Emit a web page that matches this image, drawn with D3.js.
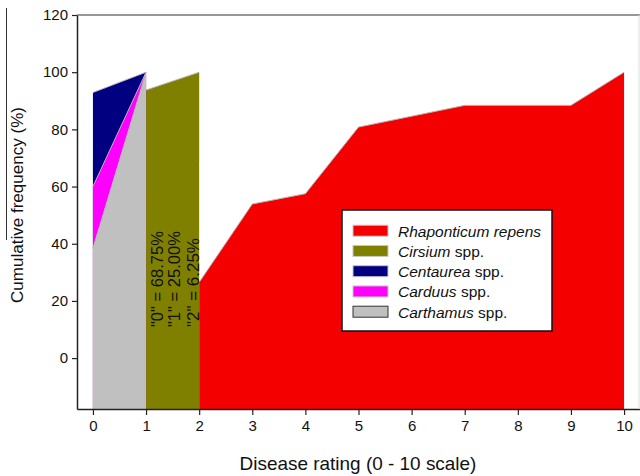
<!DOCTYPE html>
<html>
<head>
<meta charset="utf-8">
<script src="https://cdn.jsdelivr.net/npm/d3@7"></script>
<style>
  body { margin: 0; background: #fff; }
  svg text { font-family: "Liberation Sans", Arial, sans-serif; fill: #111; }
</style>
</head>
<body>
<div id="chart"></div>
<script>
// cumulative frequency (%) by disease rating
const rhapRatings = [2, 3, 4, 5, 6, 7, 8, 9, 10];
const rhapValues = [26.5, 53.9, 57.5, 80.8, 84.6, 88.4, 88.4, 88.4, 100];
const cirsiumRatings = [0, 1, 2];
const cirsiumValues = [68.75, 93.75, 100];
const centaureaRatings = [0, 1];
const centaureaValues = [92.9, 100];
const carduusRatings = [0, 1];
const carduusValues = [60.0, 100];
const carthamusRatings = [0, 1];
const carthamusValues = [38.4, 100];

const xTicks = [0, 1, 2, 3, 4, 5, 6, 7, 8, 9, 10];
const yTicks = [0, 20, 40, 60, 80, 100, 120];
const cirsiumNotes = ['"0" = 68.75%', '"1" = 25.00%', '"2" = 6.25%'];

const width = 640, height = 476;
const svg = d3.select("#chart").append("svg")
    .attr("width", width)
    .attr("height", height);

const xScale = d3.scaleLinear().domain([-0.3, 10.3]).range([77, 640]);
const yScale = d3.scaleLinear().domain([-17.8, 120]).range([409, 15]);

// shrink/grow a text node so it spans the wanted length
function fitText(sel, size, target) {
    sel.style("font-size", size + "px");
    const len = sel.node().getComputedTextLength();
    if (len > 0) sel.style("font-size", (size * target / len).toFixed(2) + "px");
}

// series drawn back to front
const series = [
    { name: "Rhaponticum", extra: "repens", color: "#f40000", edge: "#c8c8c8", x: rhapRatings, y: rhapValues },
    { name: "Cirsium", extra: "spp.", color: "#808000", edge: "#c8c8c8", x: cirsiumRatings, y: cirsiumValues },
    { name: "Centaurea", extra: "spp.", color: "#000080", edge: "#c8c8c8", x: centaureaRatings, y: centaureaValues },
    { name: "Carduus", extra: "spp.", color: "#ff00ff", edge: "#c8c8c8", x: carduusRatings, y: carduusValues },
    { name: "Carthamus", extra: "spp.", color: "#c0c0c0", edge: "#333", x: carthamusRatings, y: carthamusValues }
];

const area = d3.area()
    .x(d => xScale(d[0]))
    .y0(yScale(-17.8))
    .y1(d => yScale(d[1]));
const line = d3.line()
    .x(d => xScale(d[0]))
    .y(d => yScale(d[1]));

series.forEach(s => {
    const pts = s.x.map((v, i) => [v, s.y[i]]);
    svg.append("path")
        .datum(pts)
        .attr("d", area)
        .attr("fill", s.color);
    svg.append("path")
        .datum(pts)
        .attr("d", line)
        .attr("fill", "none")
        .attr("stroke", "#b8b8b8")
        .attr("stroke-width", 1);
});

// axes
const xAxis = svg.append("g")
    .attr("transform", `translate(0, ${yScale(-17.8)})`)
    .call(d3.axisBottom(xScale).tickValues(xTicks).tickSize(6).tickPadding(5).tickSizeOuter(0));
const yAxis = svg.append("g")
    .attr("transform", `translate(${xScale(-0.3)}, 0)`)
    .call(d3.axisLeft(yScale).tickValues(yTicks).tickSize(5).tickPadding(4).tickSizeOuter(0));
[xAxis, yAxis].forEach(g => {
    g.select(".domain").attr("stroke", "#222").attr("stroke-width", 1.5);
    g.selectAll(".tick line").attr("stroke", "#222").attr("stroke-width", 1.2);
    g.selectAll(".tick text")
        .style("font-family", '"Liberation Sans", Arial, sans-serif')
        .style("font-size", "15px")
        .attr("fill", "#111");
});

// top frame and faint right edge
svg.append("line")
    .attr("x1", xScale(-0.3)).attr("x2", 640)
    .attr("y1", yScale(120)).attr("y2", yScale(120))
    .attr("stroke", "#333").attr("stroke-width", 1.2);
svg.append("line")
    .attr("x1", 639).attr("x2", 639)
    .attr("y1", yScale(120)).attr("y2", yScale(-17.8))
    .attr("stroke", "#ddd").attr("stroke-width", 1);
// stray scan line on left edge
svg.append("line")
    .attr("x1", 6.5).attr("x2", 6.5)
    .attr("y1", 8).attr("y2", 240)
    .attr("stroke", "#333").attr("stroke-width", 1);

// axis titles
const xTitle = svg.append("text")
    .attr("x", 358)
    .attr("y", 470)
    .attr("text-anchor", "middle")
    .text("Disease rating (0 - 10 scale)");
fitText(xTitle, 17, 237);
const yTitle = svg.append("text")
    .attr("transform", "translate(23, 205) rotate(-90)")
    .attr("text-anchor", "middle")
    .text("Cumulative frequency (%)");
fitText(yTitle, 17, 196);

// vertical notes on the Cirsium band
const noteX = [157.5, 174.5, 193];
cirsiumNotes.forEach((t, i) => {
    const n = svg.append("text")
        .attr("transform", `translate(${noteX[i]}, 327) rotate(-90)`)
        .attr("dominant-baseline", "central")
        .text(t);
    fitText(n, 15, i === 2 ? 89 : 96);
});

// legend
const lg = svg.append("g");
lg.append("rect")
    .attr("x", 342).attr("y", 210)
    .attr("width", 210).attr("height", 121)
    .attr("fill", "#fff")
    .attr("stroke", "#111").attr("stroke-width", 1.5);
series.forEach((s, i) => {
    const cy = 230.7 + i * 20.25;
    lg.append("rect")
        .attr("x", 353).attr("y", cy - 5.5)
        .attr("width", 35).attr("height", 11)
        .attr("fill", s.color)
        .attr("stroke", s.edge).attr("stroke-width", 1);
    const t = lg.append("text")
        .attr("x", 398).attr("y", cy)
        .attr("dominant-baseline", "central")
        .style("font-size", "15.5px");
    t.append("tspan").style("font-style", "italic").text(s.name);
    t.append("tspan").style("font-style", s.extra === "repens" ? "italic" : "normal").text(" " + s.extra);
});
</script>
</body>
</html>
